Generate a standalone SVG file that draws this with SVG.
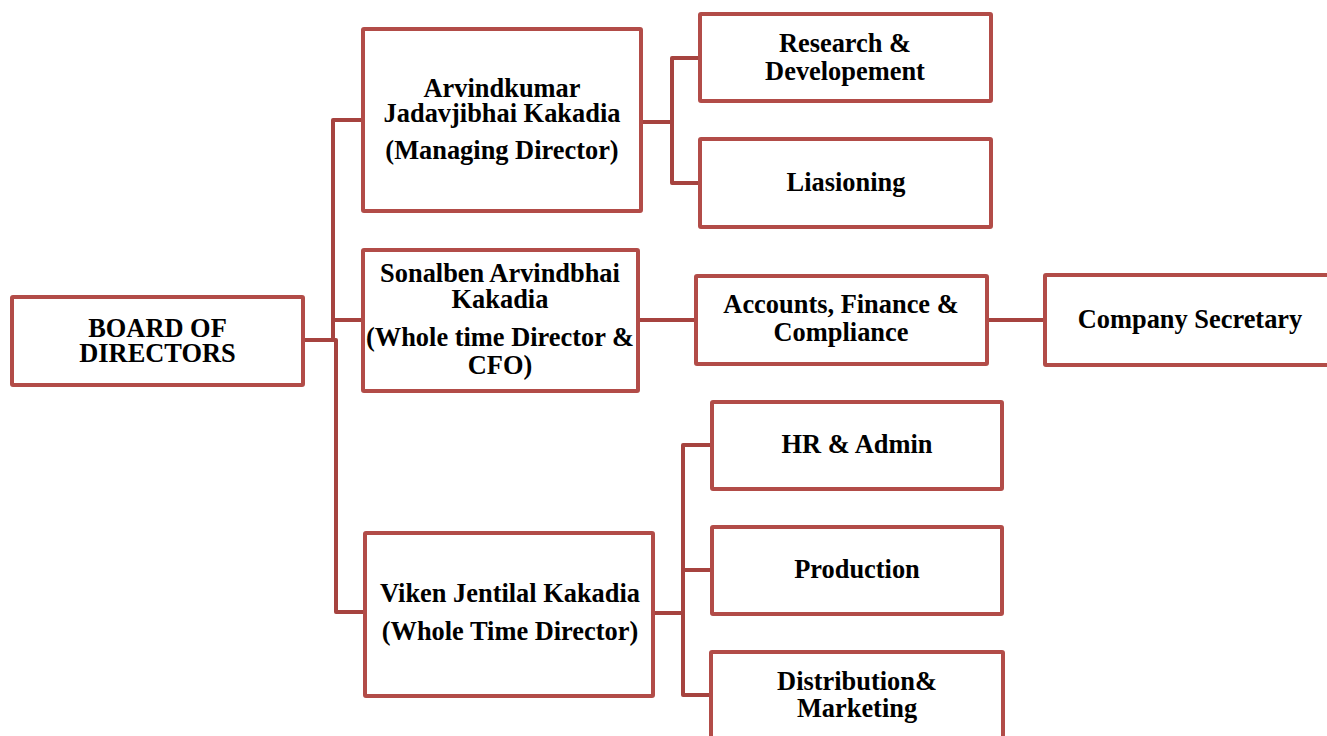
<svg xmlns="http://www.w3.org/2000/svg" width="1327" height="736" viewBox="0 0 1327 736">
<style>
.box{fill:#fff;stroke:#B24C48;stroke-width:4;}
.con{fill:none;stroke:#A6433F;stroke-width:4;stroke-linejoin:round;}
text{font-family:"Liberation Serif","Times New Roman",serif;font-weight:bold;font-size:26.4px;fill:#000;text-anchor:middle;}
</style>
<rect width="1327" height="736" fill="#fff"/>
<g id="connectors">
<path class="con" d="M305,340 H333 V120 H361"/>
<path class="con" d="M305,340 H333 V320 H361"/>
<path class="con" d="M305,340 H336 V612 H363"/>
<path class="con" d="M643,122 H672 V58 H698"/>
<path class="con" d="M643,122 H672 V183 H698"/>
<path class="con" d="M640,320 H694"/>
<path class="con" d="M989,320 H1043"/>
<path class="con" d="M655,613 H683 V445 H710"/>
<path class="con" d="M655,613 H683 V570 H710"/>
<path class="con" d="M655,613 H683 V695 H709"/>
</g>
<g id="board">
<rect class="box" x="12" y="297" width="291" height="88" rx="1"/>
<text x="157.5" y="337">BOARD OF</text>
<text x="157.5" y="362">DIRECTORS</text>
</g>
<g id="md">
<rect class="box" x="363" y="29" width="278" height="182" rx="1"/>
<text x="502" y="97">Arvindkumar</text>
<text x="502" y="122">Jadavjibhai Kakadia</text>
<text x="502" y="159">(Managing Director)</text>
</g>
<g id="sonalben">
<rect class="box" x="363" y="250" width="275" height="141" rx="1"/>
<text x="500" y="282">Sonalben Arvindbhai</text>
<text x="500" y="308">Kakadia</text>
<text x="500" y="346">(Whole time Director &amp;</text>
<text x="500" y="374">CFO)</text>
</g>
<g id="viken">
<rect class="box" x="365" y="533" width="288" height="163" rx="1"/>
<text x="510" y="602">Viken Jentilal Kakadia</text>
<text x="510" y="640">(Whole Time Director)</text>
</g>
<g id="rnd">
<rect class="box" x="700" y="14" width="291" height="87" rx="1"/>
<text x="845" y="52">Research &amp;</text>
<text x="845" y="80">Developement</text>
</g>
<g id="liaisoning">
<rect class="box" x="700" y="139" width="291" height="88" rx="1"/>
<text x="846" y="191">Liasioning</text>
</g>
<g id="accounts">
<rect class="box" x="696" y="276" width="291" height="88" rx="1"/>
<text x="841" y="313">Accounts, Finance &amp;</text>
<text x="841" y="341">Compliance</text>
</g>
<g id="cs">
<rect class="box" x="1045" y="275" width="300" height="90" rx="1"/>
<text x="1190" y="328">Company Secretary</text>
</g>
<g id="hr">
<rect class="box" x="712" y="402" width="290" height="87" rx="1"/>
<text x="857" y="453">HR &amp; Admin</text>
</g>
<g id="production">
<rect class="box" x="712" y="527" width="290" height="87" rx="1"/>
<text x="857" y="578">Production</text>
</g>
<g id="distribution">
<rect class="box" x="711" y="652" width="292" height="100" rx="1"/>
<text x="857" y="690">Distribution&amp;</text>
<text x="857" y="717">Marketing</text>
</g>
</svg>
